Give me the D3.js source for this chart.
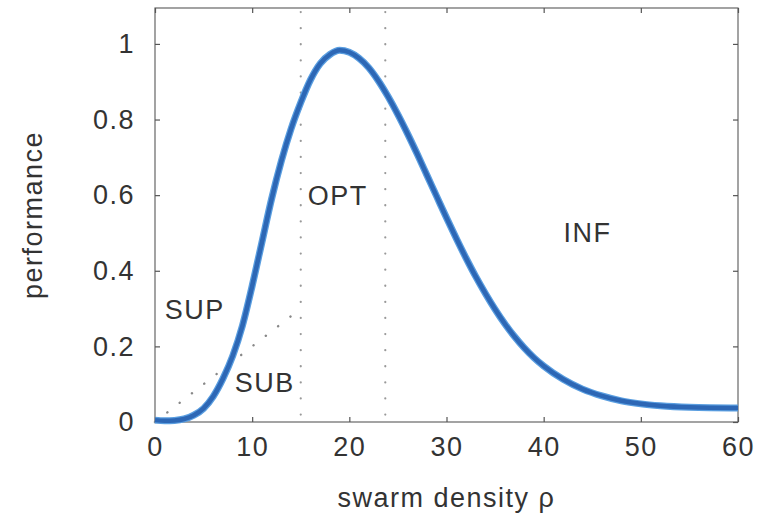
<!DOCTYPE html>
<html>
<head>
<meta charset="utf-8">
<script src="https://cdn.jsdelivr.net/npm/d3@7"></script>
<style>
  body { margin: 0; background: #fff; }
  svg { display: block; }
  text { font-family: "Liberation Sans", Arial, sans-serif; fill: #333; }
</style>
</head>
<body>
<svg id="chart" width="768" height="519"></svg>
<script>
// performance curve
var rho  = [0, 1, 2, 3, 4, 5, 6, 7, 8, 9, 10, 11, 12, 13, 14, 15, 16, 17, 18, 19, 20,
            21, 22, 23, 24, 25, 26, 27, 28, 29, 30, 31, 32, 33, 34, 35, 36, 37, 38, 39, 40,
            42, 44, 46, 48, 50, 52, 55, 60];
var perf = [0.005, 0.003, 0.004, 0.008, 0.018, 0.036, 0.068, 0.115, 0.175, 0.255, 0.36, 0.475, 0.59, 0.69, 0.775, 0.845, 0.905, 0.948, 0.972, 0.983, 0.978,
            0.962, 0.937, 0.902, 0.86, 0.813, 0.762, 0.708, 0.652, 0.596, 0.54, 0.486, 0.434, 0.385, 0.34, 0.298, 0.26, 0.226, 0.196, 0.17, 0.148,
            0.113, 0.087, 0.069, 0.056, 0.048, 0.043, 0.039, 0.037];

// dotted sub-linear reference line
var subRho = [0, 15];
var subPerf = [0, 0.3];

// region borders (dotted verticals)
var bounds = [15, 23.7];

// region names and where they sit
var regionNames = ["SUP", "SUB", "OPT", "INF"];
var regionRho   = [4.1, 11.3, 18.8, 44.5];
var regionPerf  = [0.272, 0.079, 0.575, 0.475];

var xTicks = [0, 10, 20, 30, 40, 50, 60];
var yTicks = [0, 0.2, 0.4, 0.6, 0.8, 1];

var svg = d3.select("#chart");

var x = d3.scaleLinear().domain([0, 60]).range([155, 738]);
var y = d3.scaleLinear().domain([0, 1.095]).range([422, 8]);

var fontSize = 27, spacing = "1.5px";

// frame
svg.append("rect")
    .attr("x", x(0)).attr("y", y(1.095))
    .attr("width", x(60) - x(0)).attr("height", y(0) - y(1.095))
    .attr("fill", "none").attr("stroke", "#666").attr("stroke-width", 1.2);

// axes, ticks inward on all four sides
var styleAxis = function(g) {
  g.select(".domain").remove();
  g.selectAll(".tick line").attr("stroke", "#555").attr("stroke-width", 1.2);
  g.selectAll(".tick text").attr("font-size", fontSize).attr("letter-spacing", spacing)
      .attr("fill", "#333").attr("font-family", "Liberation Sans, Arial, sans-serif");
};

svg.append("g").attr("transform", "translate(0," + y(0) + ")")
    .call(d3.axisBottom(x).tickValues(xTicks).tickFormat(d3.format("d")).tickSizeInner(-5).tickSizeOuter(0).tickPadding(15))
    .call(styleAxis);
svg.append("g").attr("transform", "translate(0," + y(1.095) + ")")
    .call(d3.axisTop(x).tickValues(xTicks).tickFormat("").tickSizeInner(-5).tickSizeOuter(0))
    .call(styleAxis);
svg.append("g").attr("transform", "translate(" + x(0) + ",0)")
    .call(d3.axisLeft(y).tickValues(yTicks).tickFormat(d3.format("~g")).tickSizeInner(-5).tickSizeOuter(0).tickPadding(20))
    .call(styleAxis);
svg.append("g").attr("transform", "translate(" + x(60) + ",0)")
    .call(d3.axisRight(y).tickValues(yTicks).tickFormat("").tickSizeInner(-5).tickSizeOuter(0))
    .call(styleAxis);

// dotted region borders
svg.append("g").selectAll("line")
    .data(bounds)
    .join("line")
      .attr("x1", d => x(d)).attr("x2", d => x(d))
      .attr("y1", y(1.095) + 4).attr("y2", y(0))
      .attr("stroke", "#999").attr("stroke-width", 2.2)
      .attr("stroke-linecap", "round")
      .attr("stroke-dasharray", "0.1 16");

// dotted sub-linear line
var subLine = d3.line().x((d, i) => x(subRho[i])).y(d => y(d));
svg.append("path")
    .datum(subPerf)
    .attr("d", subLine)
    .attr("fill", "none")
    .attr("stroke", "#888").attr("stroke-width", 2.4)
    .attr("stroke-linecap", "round")
    .attr("stroke-dasharray", "0.1 15.5");

// performance curve
var line = d3.line()
    .x((d, i) => x(rho[i]))
    .y(d => y(d))
    .curve(d3.curveMonotoneX);

svg.append("path")
    .datum(perf)
    .attr("d", line)
    .attr("fill", "none")
    .attr("stroke", "#5a9ee0").attr("stroke-width", 7)
    .attr("stroke-linejoin", "round");
svg.append("path")
    .datum(perf)
    .attr("d", line)
    .attr("fill", "none")
    .attr("stroke", "#2d67b5").attr("stroke-width", 4.5)
    .attr("stroke-linejoin", "round");

// region labels
svg.append("g").selectAll("text")
    .data(regionNames)
    .join("text")
      .attr("x", (d, i) => x(regionRho[i]))
      .attr("y", (d, i) => y(regionPerf[i]))
      .attr("text-anchor", "middle")
      .attr("font-size", fontSize)
      .attr("letter-spacing", spacing)
      .text(d => d);

// axis titles
svg.append("text")
    .attr("x", (x(0) + x(60)) / 2)
    .attr("y", 507)
    .attr("text-anchor", "middle")
    .attr("font-size", fontSize)
    .attr("letter-spacing", spacing)
    .text("swarm density ρ");

svg.append("text")
    .attr("transform", "translate(42," + (y(0) + y(1.095)) / 2 + ") rotate(-90)")
    .attr("text-anchor", "middle")
    .attr("font-size", fontSize)
    .attr("letter-spacing", spacing)
    .text("performance");
</script>
</body>
</html>
